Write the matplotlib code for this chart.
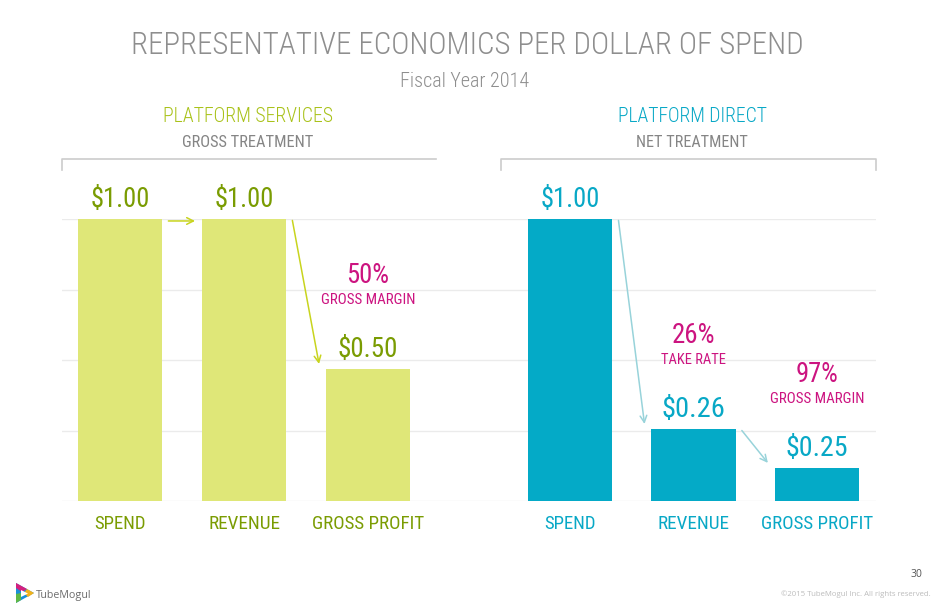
import os
import matplotlib
matplotlib.use('Agg')
import matplotlib.pyplot as plt
from matplotlib import font_manager as fm
from matplotlib.font_manager import FontProperties
from matplotlib.patches import Polygon
from matplotlib.lines import Line2D
import numpy as np

# ---------------- data ----------------
title = 'REPRESENTATIVE ECONOMICS PER DOLLAR OF SPEND'
subtitle = 'Fiscal Year 2014'
group_names = ['PLATFORM SERVICES', 'PLATFORM DIRECT']
group_treatments = ['GROSS TREATMENT', 'NET TREATMENT']
categories = ['SPEND', 'REVENUE', 'GROSS PROFIT']
services_labels = ['$1.00', '$1.00', '$0.50']
direct_labels = ['$1.00', '$0.26', '$0.25']
# bar heights as drawn on the slide (not strictly proportional)
services_heights = [1.00, 1.00, 0.468]
direct_heights = [1.00, 0.255, 0.117]
services_ratios = [None, None, ('50%', 'GROSS MARGIN')]
direct_ratios = [None, ('26%', 'TAKE RATE'), ('97%', 'GROSS MARGIN')]
gridlines = [0.0, 0.25, 0.50, 0.75, 1.00]

# ---------------- fonts ----------------
files = sorted({f.fname for f in fm.fontManager.ttflist})


def pick(prefixes, fallback_family, stretch='condensed'):
    for p in prefixes:
        for fn in files:
            if os.path.basename(fn).startswith(p):
                return FontProperties(fname=fn)
    return FontProperties(family=fallback_family, stretch=stretch)


FP_REG = pick(['NotoSans-ExtraCondensed.', 'NotoSans-Condensed.',
               'OpenSans_Condensed-Regular.', 'RobotoCondensed-Regular.',
               'Roboto_Condensed-Regular.', 'LiberationSansNarrow-Regular.',
               'DejaVuSansCondensed.'], 'DejaVu Sans')
FP_LIGHT = pick(['NotoSans-ExtraCondensedLight.', 'NotoSans-ExtraCondensedExtraLight.',
                 'NotoSans-CondensedLight.', 'OpenSans_Condensed-Light.',
                 'RobotoCondensed-Light.', 'Roboto_Condensed-Light.',
                 'NotoSans-ExtraCondensed.', 'LiberationSansNarrow-Regular.',
                 'DejaVuSansCondensed.'], 'DejaVu Sans')
FP_FOOT = pick(['OpenSans-Regular.', 'OpenSans[', 'NotoSans-Regular.'], 'DejaVu Sans', 'normal')
FP_MED = FP_REG

# ---------------- style ----------------
W, H = 935, 613
GREEN_BAR = '#dfe778'
GREEN_TXT = '#7a9c02'
GREEN_HDR = '#a9c21a'
GREEN_ARR = '#c8d41e'
CYAN_BAR = '#04aac7'
CYAN_TXT = '#08a8c6'
CYAN_ARR = '#98d3da'
MAGENTA = '#cc1480'
GREY_HDR = '#858585'
GREY_TTL = '#8e8e8e'

fig = plt.figure(figsize=(W / 100, H / 100), dpi=100)
fig.patch.set_facecolor('white')


def px(x, y):
    return (x / W, 1 - y / H)


ax_left, ax_right, ax_top, ax_bot = 62, 876, 219, 501
ax = fig.add_axes([ax_left / W, 1 - ax_bot / H, (ax_right - ax_left) / W, (ax_bot - ax_top) / H])
ax.set_xlim(-0.468, 6.097)
ax.set_ylim(0, 1)
ax.axis('off')

for g in gridlines:
    ax.axhline(g, color='#ebebeb', lw=1, zorder=0)

bar_w = 0.68
xs_s = np.arange(3) * 1.0
xs_d = 3.63 + np.arange(3) * 0.995

texts_fit = []  # (text, target width px)

ax.bar(xs_s, services_heights, width=bar_w, color=GREEN_BAR, zorder=2)
ax.bar(xs_d, direct_heights, width=bar_w, color=CYAN_BAR, zorder=2)

label_widths = {'$1.00': 59, '$0.50': 60, '$0.26': 63, '$0.25': 62}
cat_widths = {'SPEND': 52, 'REVENUE': 72, 'GROSS PROFIT': 113}
pct_w = 43
desc_widths = {'GROSS MARGIN': 95, 'TAKE RATE': 65}

for xs, hs, labs, ratios, tcol, acol in [
        (xs_s, services_heights, services_labels, services_ratios, GREEN_TXT, GREEN_ARR),
        (xs_d, direct_heights, direct_labels, direct_ratios, CYAN_TXT, CYAN_ARR)]:
    for i, (x, h, lab) in enumerate(zip(xs, hs, labs)):
        t = ax.annotate(lab, xy=(x, h), xytext=(0, 12), textcoords='offset pixels',
                        ha='center', va='baseline', color=tcol,
                        fontproperties=FP_MED.copy(), zorder=3)
        texts_fit.append((t, label_widths[lab]))
        t = ax.annotate(categories[i], xy=(x, 0), xytext=(0, -28), textcoords='offset pixels',
                        ha='center', va='baseline', color=tcol,
                        fontproperties=FP_MED.copy(), zorder=3)
        texts_fit.append((t, cat_widths[categories[i]]))
        if ratios[i] is not None:
            pct, desc = ratios[i]
            t = ax.annotate(pct, xy=(x, h), xytext=(0, 86), textcoords='offset pixels',
                            ha='center', va='baseline', color=MAGENTA,
                            fontproperties=FP_MED.copy(), zorder=3)
            texts_fit.append((t, pct_w))
            t = ax.annotate(desc, xy=(x, h), xytext=(0, 65), textcoords='offset pixels',
                            ha='center', va='baseline', color=MAGENTA,
                            fontproperties=FP_MED.copy(), zorder=3)
            texts_fit.append((t, desc_widths[desc]))
    # arrows between consecutive bars
    for i in range(2):
        x0 = xs[i] + bar_w / 2 + 0.05
        x1 = xs[i + 1] - bar_w / 2 - 0.055
        if abs(hs[i] - hs[i + 1]) < 1e-6:
            y0 = y1 = hs[i] - 0.007
        else:
            y0 = hs[i] - 0.005
            y1 = hs[i + 1] + 0.018
        ax.annotate('', xy=(x1, y1), xytext=(x0, y0),
                    arrowprops=dict(arrowstyle='->', color=acol, lw=1.1,
                                    shrinkA=0, shrinkB=0, mutation_scale=12),
                    zorder=3)

# ---------------- header texts ----------------
t = fig.text(*px(467, 54), title, ha='center', va='baseline', color=GREY_TTL,
             fontproperties=FP_LIGHT.copy())
texts_fit.append((t, 670))
t = fig.text(*px(465, 87), subtitle, ha='center', va='baseline', color=GREY_TTL,
             fontproperties=FP_LIGHT.copy())
texts_fit.append((t, 130))

hdr_cols = [GREEN_HDR, CYAN_TXT]
hdr_x = [248, 692]
hdr_w = [170, 149]
sub_w = [131, 111]
for gname, gsub, col, hx, w1, w2 in zip(group_names, group_treatments, hdr_cols, hdr_x, hdr_w, sub_w):
    t = fig.text(*px(hx, 122), gname, ha='center', va='baseline', color=col,
                 fontproperties=FP_LIGHT.copy())
    texts_fit.append((t, w1))
    t = fig.text(*px(hx, 147), gsub, ha='center', va='baseline', color=GREY_HDR,
                 fontproperties=FP_REG.copy())
    texts_fit.append((t, w2))

# brackets
bcol = '#cccccc'
for seg in [[(62, 170), (62, 159), (436, 159)],
            [(501, 170), (501, 159), (876, 159), (876, 170)]]:
    xs_b = [px(a, b)[0] for a, b in seg]
    ys_b = [px(a, b)[1] for a, b in seg]
    fig.add_artist(Line2D(xs_b, ys_b, color=bcol, lw=1.2))

# ---------------- footer ----------------
def poly(pts, col):
    fig.add_artist(Polygon([px(a, b) for a, b in pts], closed=True, color=col, lw=0))

poly([(16, 583), (34, 593), (16, 603)], '#1a8fd8')
poly([(16, 583), (27, 589), (22, 592), (16, 588)], '#d4207e')
poly([(27, 589), (34, 593), (28, 597), (24, 593)], '#f2b21b')
poly([(16, 594), (21, 593), (21, 600), (16, 603)], '#5fb846')
poly([(21, 590), (28, 593.5), (21, 597)], '#ffffff')

fpf = FP_FOOT.copy(); fpf.set_size(9)
t = fig.text(*px(36, 598), 'TubeMogul', ha='left', va='baseline', color='#6b6b6b',
             fontproperties=fpf)
texts_fit.append((t, 56))
fpf2 = FP_FOOT.copy(); fpf2.set_size(7.5)
fig.text(*px(916, 577), '30', ha='center', va='baseline', color='#555555',
         fontproperties=fpf2)
fpf3 = FP_FOOT.copy(); fpf3.set_size(6)
t = fig.text(*px(931, 596), '\u00a92015 TubeMogul Inc. All rights reserved.', ha='right',
             va='baseline', color='#bdbdbd', fontproperties=fpf3)
texts_fit.append((t, 152))

# fit text widths to the measured widths on the slide
fig.canvas.draw()
r = fig.canvas.get_renderer()
for t, target in texts_fit:
    bb = t.get_window_extent(r)
    if bb.width > 0:
        t.set_fontsize(t.get_fontsize() * target / bb.width)

fig.savefig('out.png', dpi=100, facecolor='white')
